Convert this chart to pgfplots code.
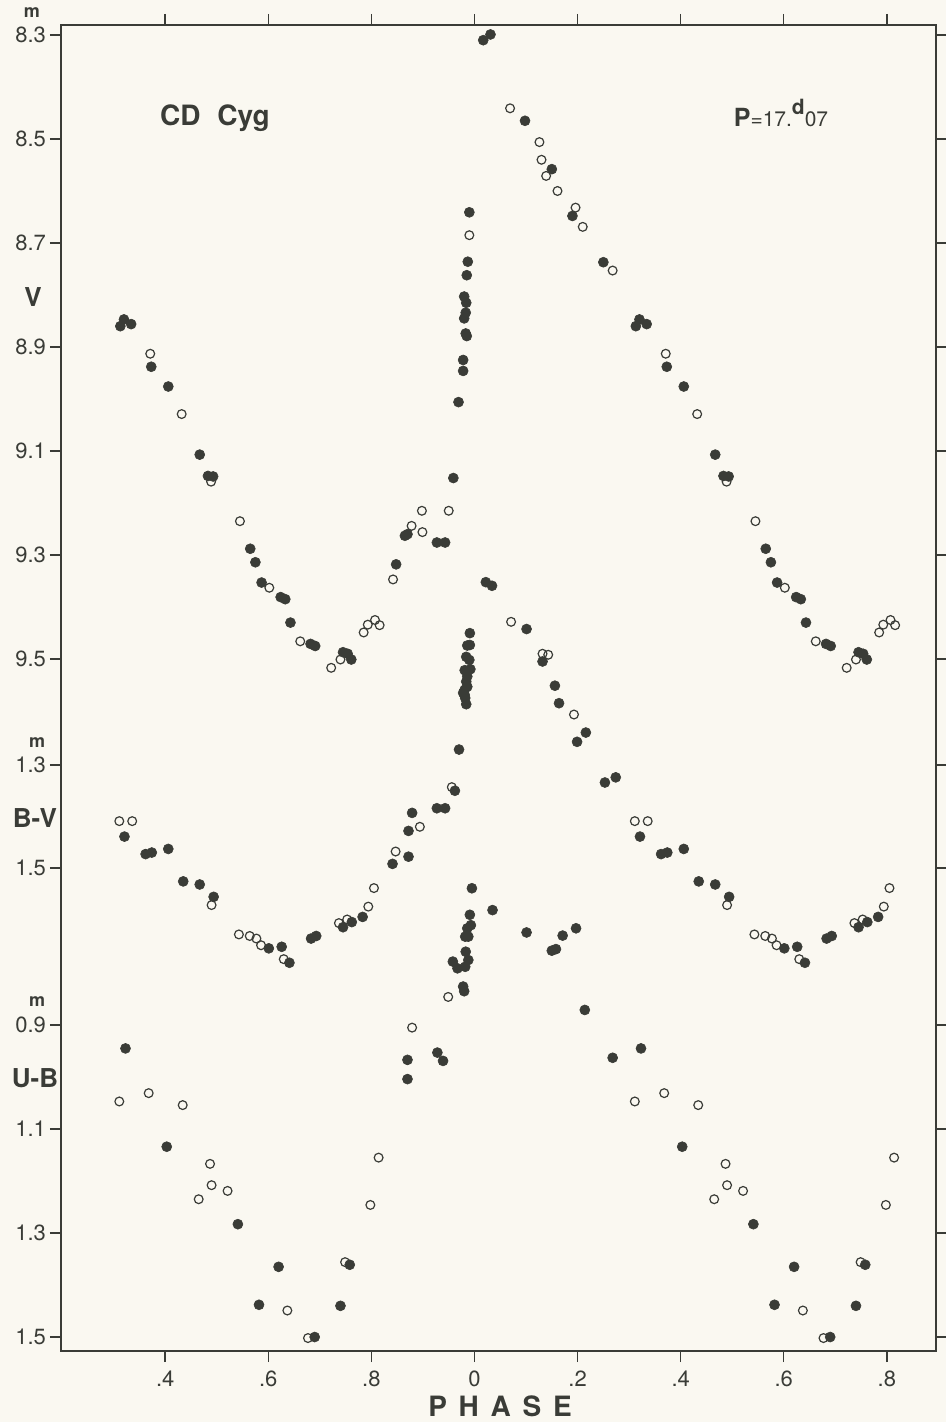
\documentclass[border=0pt]{standalone}
\usepackage{fontspec}
\setmainfont{TeX Gyre Heros}
\usepackage{pgfplots}
\pgfplotsset{compat=1.18}
\usepackage{pgfplotstable}

\definecolor{ink}{RGB}{58,60,55}
\definecolor{paper}{RGB}{250,248,241}

% phase in [0,1), magnitude / colour index
\pgfplotstableread{
p m
0.017 8.310
0.031 8.299
0.098 8.465
0.150 8.558
0.190 8.648
0.250 8.737
0.313 8.860
0.320 8.847
0.334 8.856
0.373 8.938
0.406 8.976
0.467 9.107
0.483 9.148
0.493 9.149
0.565 9.288
0.575 9.314
0.587 9.353
0.624 9.381
0.633 9.385
0.643 9.430
0.682 9.471
0.691 9.475
0.745 9.487
0.754 9.490
0.761 9.501
0.848 9.318
0.865 9.263
0.870 9.260
0.927 9.276
0.943 9.276
0.959 9.152
0.969 9.006
0.978 8.925
0.978 8.946
0.983 8.874
0.985 8.879
0.980 8.803
0.984 8.815
0.983 8.834
0.980 8.845
0.987 8.736
0.985 8.762
0.990 8.641
}\Vfill

\pgfplotstableread{
p m
0.069 8.441
0.126 8.506
0.130 8.540
0.139 8.571
0.161 8.600
0.196 8.632
0.210 8.669
0.268 8.753
0.371 8.913
0.432 9.029
0.489 9.159
0.545 9.235
0.602 9.363
0.662 9.466
0.722 9.517
0.740 9.501
0.785 9.449
0.793 9.434
0.807 9.425
0.816 9.435
0.842 9.347
0.878 9.244
0.898 9.215
0.899 9.256
0.950 9.215
0.990 8.685
}\Vopen

\pgfplotstableread{
p m
0.022 0.945
0.034 0.952
0.101 1.036
0.132 1.099
0.156 1.146
0.164 1.180
0.199 1.255
0.216 1.237
0.253 1.334
0.274 1.324
0.321 1.439
0.362 1.473
0.374 1.470
0.406 1.463
0.435 1.526
0.467 1.532
0.494 1.556
0.601 1.656
0.626 1.653
0.641 1.684
0.683 1.637
0.693 1.632
0.745 1.615
0.762 1.605
0.783 1.595
0.841 1.492
0.872 1.478
0.872 1.428
0.879 1.393
0.927 1.384
0.943 1.384
0.962 1.350
0.970 1.270
0.991 1.044
0.986 1.068
0.991 1.067
0.984 1.090
0.990 1.096
0.981 1.116
0.992 1.114
0.986 1.128
0.984 1.138
0.981 1.154
0.986 1.148
0.981 1.164
0.984 1.182
0.978 1.160
0.982 1.170
}\BVfill

\pgfplotstableread{
p m
0.071 1.022
0.132 1.084
0.143 1.086
0.193 1.202
0.311 1.409
0.336 1.409
0.490 1.572
0.543 1.629
0.564 1.632
0.577 1.637
0.586 1.650
0.630 1.677
0.737 1.607
0.753 1.600
0.794 1.575
0.805 1.539
0.847 1.468
0.894 1.420
0.956 1.343
}\BVopen

\pgfplotstableread{
p m
0.035 0.679
0.101 0.722
0.150 0.757
0.158 0.754
0.171 0.728
0.197 0.714
0.214 0.871
0.268 0.963
0.323 0.945
0.403 1.134
0.541 1.283
0.582 1.438
0.620 1.365
0.690 1.500
0.740 1.440
0.758 1.361
0.870 0.967
0.870 1.004
0.928 0.953
0.939 0.969
0.995 0.637
0.991 0.688
0.993 0.708
0.986 0.714
0.988 0.730
0.982 0.730
0.983 0.759
0.988 0.775
0.958 0.778
0.967 0.791
0.982 0.788
0.978 0.826
0.980 0.835
}\UBfill

\pgfplotstableread{
p m
0.311 1.047
0.368 1.031
0.434 1.054
0.465 1.235
0.487 1.167
0.490 1.208
0.521 1.219
0.637 1.449
0.677 1.502
0.749 1.356
0.798 1.246
0.814 1.155
0.879 0.905
0.949 0.846
}\UBopen

\pgfplotsset{
  lc/.style={
    at={(30.5pt,35.5pt)}, anchor=south west,
    scale only axis, width=437.5pt, height=663pt,
    xmin=-0.8021, xmax=0.8953,
    y dir=reverse,
    axis line style={draw=ink, line width=0.85pt},
    tick align=outside,
    major tick length=5.5pt,
    tick style={draw=ink, line width=0.7pt},
    xtick pos=both, ytick pos=both,
    xticklabel pos=lower, yticklabel pos=left,
    ticklabel style={font=\fontsize{11}{13}\selectfont, text=ink},
    /pgf/number format/assume math mode=true,
    yticklabel style={xshift=1.5pt},
    xticklabel style={yshift=-1pt},
  },
  full/.style={only marks, mark=*, mark size=2.5pt,
    mark options={draw=ink, fill=ink, line width=0.3pt},
    restrict x to domain=-0.70:0.83},
  hollow/.style={only marks, mark=o, mark size=2.2pt,
    mark options={draw=ink, line width=0.6pt},
    restrict x to domain=-0.70:0.83},
}

\begin{document}
\begin{tikzpicture}
\path[use as bounding box, fill=paper] (0,0) rectangle (473pt,711pt);

% V
\begin{axis}[lc,
  ymin=8.2808, ymax=10.8308,
  xtick={-0.6,-0.4,-0.2,0,0.2,0.4,0.6,0.8},
  xticklabels={.4,.6,.8,0,.2,.4,.6,.8},
  ytick={8.3,8.5,8.7,8.9,9.1,9.3,9.5},
  yticklabels={8.3,8.5,8.7,8.9,9.1,9.3,9.5}]
\addplot[hollow] table[x=p, y=m] {\Vopen};
\addplot[hollow] table[x expr=\thisrow{p}-1, y=m] {\Vopen};
\addplot[full] table[x=p, y=m] {\Vfill};
\addplot[full] table[x expr=\thisrow{p}-1, y=m] {\Vfill};
\end{axis}

% B-V
\begin{axis}[lc,
  ymin=-0.1369, ymax=2.4379,
  xtick=\empty,
  ytick={1.3,1.5},
  yticklabels={1.3,1.5}]
\addplot[hollow] table[x=p, y=m] {\BVopen};
\addplot[hollow] table[x expr=\thisrow{p}-1, y=m] {\BVopen};
\addplot[full] table[x=p, y=m] {\BVfill};
\addplot[full] table[x expr=\thisrow{p}-1, y=m] {\BVfill};
\end{axis}

% U-B
\begin{axis}[lc,
  ymin=-1.0231, ymax=1.5269,
  xtick=\empty,
  ytick={0.9,1.1,1.3,1.5},
  yticklabels={0.9,1.1,1.3,1.5}]
\addplot[hollow] table[x=p, y=m] {\UBopen};
\addplot[hollow] table[x expr=\thisrow{p}-1, y=m] {\UBopen};
\addplot[full] table[x=p, y=m] {\UBfill};
\addplot[full] table[x expr=\thisrow{p}-1, y=m] {\UBfill};
\end{axis}

\begin{scope}[every node/.style={text=ink, inner sep=0pt}]
\node[font=\bfseries\fontsize{9}{10}\selectfont] at (16pt,704.5pt) {m};
\node[font=\bfseries\fontsize{13}{15}\selectfont] at (16.5pt,562.5pt) {V};
\node[font=\bfseries\fontsize{9}{10}\selectfont] at (18.5pt,339.5pt) {m};
\node[font=\bfseries\fontsize{13}{15}\selectfont] at (17.5pt,302pt) {B-V};
\node[font=\bfseries\fontsize{9}{10}\selectfont] at (18.5pt,210pt) {m};
\node[font=\bfseries\fontsize{13}{15}\selectfont] at (17.5pt,172pt) {U-B};
\node[font=\bfseries\fontsize{14}{16}\selectfont] at (107.5pt,652pt) {CD\hspace{0.6em}Cyg};
\node[font=\fontsize{10.5}{12}\selectfont] at (390.5pt,654.5pt)
  {{\bfseries\fontsize{12.5}{14}\selectfont P}{=}17.\raisebox{1.1ex}{\bfseries d}07};
\node[font=\bfseries\fontsize{14}{16}\selectfont] at (250pt,8pt)
  {P\hspace{0.42em}H\hspace{0.42em}A\hspace{0.42em}S\hspace{0.42em}E};
\end{scope}
\end{tikzpicture}
\end{document}
